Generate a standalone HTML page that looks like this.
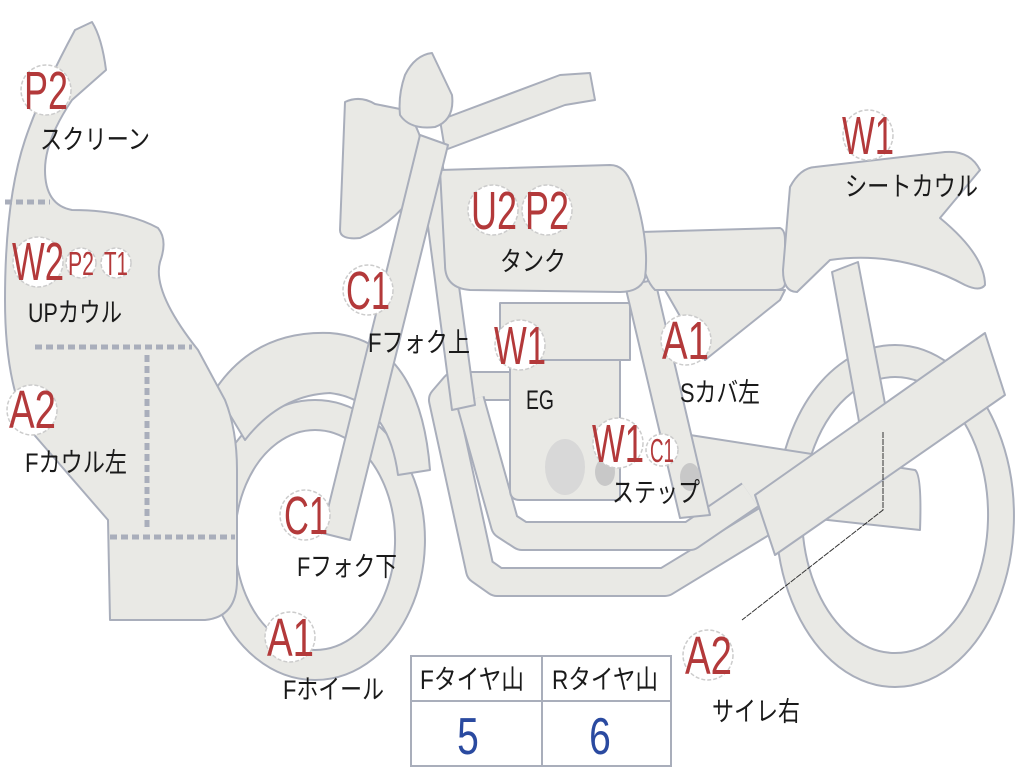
<!DOCTYPE html>
<html><head><meta charset="utf-8"><style>
html,body{margin:0;padding:0;background:#fff;width:1024px;height:768px;overflow:hidden}
svg{display:block}
.s{fill:#e9e9e5;stroke:#a9aebb;stroke-width:2;stroke-linejoin:round}
.c{fill:#fff;stroke:#ccc;stroke-width:1.5;stroke-dasharray:4 2}
.r{fill:#b3393a;font-family:"Liberation Sans",sans-serif}
.k{fill:#1a1a1a;font-family:"Liberation Sans","Noto Sans CJK JP",sans-serif;font-size:27px}
.d{stroke:#a9aebb;stroke-width:5;stroke-dasharray:7 4;fill:none}
.po{fill:none;stroke:#a9aebb;stroke-width:30;stroke-linejoin:round;stroke-linecap:butt}
.pi{fill:none;stroke:#e9e9e5;stroke-width:26;stroke-linejoin:round;stroke-linecap:butt}
</style></head><body>
<svg width="1024" height="768" viewBox="0 0 1024 768" xmlns="http://www.w3.org/2000/svg">
<!-- rear wheel -->
<path class="s" fill-rule="evenodd" d="M895,345 A119,171 0 1 1 894.9,345 Z M895,377 A93,138 0 1 0 895.1,377 Z"/>
<!-- rear shock -->
<polygon class="s" points="832,272 858,262 890,430 862,438"/>
<!-- swingarm -->
<path class="s" d="M690,435 L915,470 Q922,475 920,530 L690,505 Z"/>
<!-- exhaust pipes -->
<polyline class="po" points="512,386 455,386 443,400 480,570 497,582 665,582 775,515"/>
<polyline class="pi" points="512,386 455,386 443,400 480,570 497,582 665,582 775,515"/>
<polyline class="po" points="470,400 505,525 522,536 690,536 750,495"/>
<polyline class="pi" points="470,400 505,525 522,536 690,536 750,495"/>
<!-- front wheel -->
<path class="s" fill-rule="evenodd" d="M315,400 A110,140 0 1 1 314.9,400 Z M315,430 A80,110 0 1 0 315.1,430 Z"/>
<!-- fender -->
<path class="s" d="M215,390 Q255,330 330,333 Q420,340 430,470 L398,475 Q388,400 330,393 Q280,395 245,440 Z"/>
<!-- left fork behind -->
<polygon class="s" points="418,150 440,145 475,405 452,410"/>
<!-- engine -->
<rect class="s" x="500" y="303" width="130" height="57"/>
<path class="s" d="M510,360 L620,360 L620,500 L520,500 Q510,500 510,490 Z"/>
<ellipse cx="565" cy="467" rx="20" ry="28" fill="#d8d8d8"/>
<!-- frame down tube -->
<polygon class="s" points="625,285 655,280 710,515 680,518"/>
<ellipse cx="605" cy="472" rx="10" ry="14" fill="#c8c8c8"/>
<ellipse cx="690" cy="477" rx="10" ry="14" fill="#c8c8c8"/>
<!-- side cover -->
<polygon class="s" points="665,290 785,290 780,300 705,360"/>
<!-- seat -->
<path class="s" d="M640,232 L780,228 Q785,230 785,240 L785,283 Q785,290 775,290 L655,290 Q640,275 640,232 Z"/>
<!-- seat cowl -->
<path class="s" d="M790,187 Q800,168 815,167 L945,152 Q970,150 980,170 L940,218 Q985,255 985,285 Q980,292 965,285 Q900,250 830,260 L797,292 Q783,292 783,270 Z"/>
<!-- tank -->
<path class="s" d="M440,170 L610,165 Q625,165 632,185 Q650,240 645,278 Q640,292 620,292 L470,290 Q445,288 445,265 Z"/>
<!-- handlebar -->
<path class="s" d="M440,120 L560,75 L590,73 L595,100 L565,105 L445,150 Z"/>
<!-- headlight -->
<path class="s" d="M345,102 Q360,95 375,104 L405,110 Q430,140 420,175 Q410,215 360,238 Q340,240 340,230 Z"/>
<!-- mirror -->
<path class="s" d="M405,75 Q415,55 432,53 L452,95 Q455,120 435,127 Q410,130 400,115 Q398,95 405,75 Z"/>
<!-- front fork -->
<polygon class="s" points="420,135 448,145 350,540 322,533"/>
<!-- left fairing -->
<path class="s" d="M75,30 L92,22 Q102,38 106,70 L72,100 Q45,140 45,170 Q45,205 72,210 Q125,210 158,228 Q168,240 160,262 Q152,292 198,350 L225,400 Q237,430 237,470 L237,580 Q237,617 205,620 L110,620 L108,520 L30,430 Q5,385 5,300 Q5,200 25,140 Q40,95 75,30 Z"/>
<line class="d" x1="5" y1="202" x2="50" y2="202"/>
<line class="d" x1="35" y1="347" x2="192" y2="347"/>
<line class="d" x1="147" y1="355" x2="147" y2="530"/>
<line class="d" x1="110" y1="537" x2="235" y2="537"/>
<!-- muffler -->
<polygon class="s" points="755,495 985,333 1005,395 775,555"/>
<!-- leader -->
<path d="M883,432 L883,510 L742,620" stroke="#333" stroke-width="1" fill="none" stroke-dasharray="6 1"/>
<!-- table -->
<rect x="411" y="656" width="260" height="110" fill="#fff" stroke="#a9aebb" stroke-width="2"/>
<line x1="411" y1="701" x2="671" y2="701" stroke="#a9aebb" stroke-width="2"/>
<line x1="542" y1="656" x2="542" y2="766" stroke="#a9aebb" stroke-width="2"/>
<text class="k" x="420" y="689" textLength="104" lengthAdjust="spacingAndGlyphs">Fタイヤ山</text>
<text class="k" x="552" y="689" textLength="106" lengthAdjust="spacingAndGlyphs">Rタイヤ山</text>
<text x="468" y="754" font-family="Liberation Sans,sans-serif" font-size="52" fill="#2a4aa0" text-anchor="middle" transform="translate(468,0) scale(0.75,1) translate(-468,0)">5</text>
<text x="600" y="754" font-family="Liberation Sans,sans-serif" font-size="52" fill="#2a4aa0" text-anchor="middle" transform="translate(600,0) scale(0.75,1) translate(-600,0)">6</text>
<!-- circles -->
<g>
<circle class="c" cx="46" cy="90" r="25"/><circle class="c" cx="38" cy="262" r="25"/>
<circle class="c" cx="81" cy="263" r="15"/><circle class="c" cx="116" cy="263" r="15"/>
<circle class="c" cx="32" cy="410" r="25"/><circle class="c" cx="368" cy="290" r="25"/>
<circle class="c" cx="305" cy="515" r="25"/><circle class="c" cx="290" cy="637" r="25"/>
<circle class="c" cx="493" cy="210" r="25"/><circle class="c" cx="547" cy="210" r="25"/>
<circle class="c" cx="520" cy="345" r="25"/><circle class="c" cx="686" cy="340" r="25"/>
<circle class="c" cx="618" cy="443" r="25"/><circle class="c" cx="662" cy="450" r="16"/>
<circle class="c" cx="868" cy="135" r="25"/><circle class="c" cx="708" cy="655" r="25"/>
</g>
<g class="r" font-size="54">
<text x="24" y="109" textLength="44" lengthAdjust="spacingAndGlyphs">P2</text>
<text x="12" y="280" textLength="52" lengthAdjust="spacingAndGlyphs">W2</text>
<text x="9" y="428" textLength="47" lengthAdjust="spacingAndGlyphs">A2</text>
<text x="346" y="309" textLength="44" lengthAdjust="spacingAndGlyphs">C1</text>
<text x="284" y="534" textLength="44" lengthAdjust="spacingAndGlyphs">C1</text>
<text x="267" y="656" textLength="47" lengthAdjust="spacingAndGlyphs">A1</text>
<text x="471" y="229" textLength="46" lengthAdjust="spacingAndGlyphs">U2</text>
<text x="525" y="229" textLength="44" lengthAdjust="spacingAndGlyphs">P2</text>
<text x="494" y="364" textLength="52" lengthAdjust="spacingAndGlyphs">W1</text>
<text x="662" y="359" textLength="47" lengthAdjust="spacingAndGlyphs">A1</text>
<text x="592" y="462" textLength="52" lengthAdjust="spacingAndGlyphs">W1</text>
<text x="842" y="154" textLength="52" lengthAdjust="spacingAndGlyphs">W1</text>
<text x="685" y="674" textLength="47" lengthAdjust="spacingAndGlyphs">A2</text>
</g>
<g class="r" font-size="33">
<text x="68" y="275" textLength="26" lengthAdjust="spacingAndGlyphs">P2</text>
<text x="104" y="275" textLength="24" lengthAdjust="spacingAndGlyphs">T1</text>
<text x="650" y="462" textLength="24" lengthAdjust="spacingAndGlyphs">C1</text>
</g>
<g class="k">
<text x="40" y="149" textLength="110" lengthAdjust="spacingAndGlyphs">スクリーン</text>
<text x="28" y="322" textLength="94" lengthAdjust="spacingAndGlyphs">UPカウル</text>
<text x="25" y="472" textLength="102" lengthAdjust="spacingAndGlyphs">Fカウル左</text>
<text x="368" y="352" textLength="102" lengthAdjust="spacingAndGlyphs">Fフォク上</text>
<text x="297" y="576" textLength="100" lengthAdjust="spacingAndGlyphs">Fフォク下</text>
<text x="283" y="699" textLength="101" lengthAdjust="spacingAndGlyphs">Fホイール</text>
<text x="500" y="271" textLength="66" lengthAdjust="spacingAndGlyphs">タンク</text>
<text x="526" y="409" textLength="28" lengthAdjust="spacingAndGlyphs">EG</text>
<text x="680" y="402" textLength="80" lengthAdjust="spacingAndGlyphs">Sカバ左</text>
<text x="612" y="502" textLength="88" lengthAdjust="spacingAndGlyphs">ステップ</text>
<text x="845" y="196" textLength="133" lengthAdjust="spacingAndGlyphs">シートカウル</text>
<text x="712" y="721" textLength="88" lengthAdjust="spacingAndGlyphs">サイレ右</text>
</g>
</svg>
</body></html>
